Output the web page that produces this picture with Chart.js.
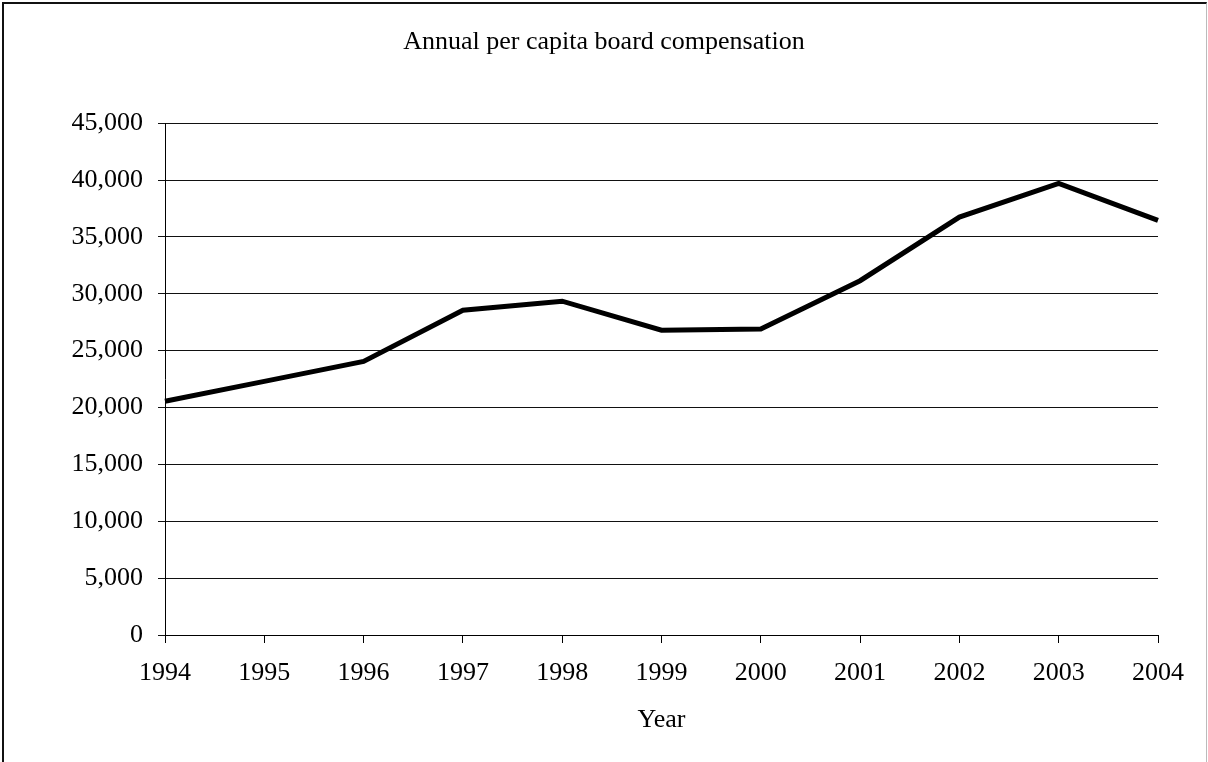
<!DOCTYPE html>
<html>
<head>
<meta charset="utf-8">
<script src="https://cdn.jsdelivr.net/npm/chart.js@4"></script>
<style>
  body { margin: 0; background: #fff; overflow: hidden; }
  #wrap { position: relative; width: 1208px; height: 762px; }
  #frame {
    position: absolute; left: 2px; top: 2px; width: 1202px; height: 800px;
    border-left: 2px solid #111; border-top: 2px solid #111; border-right: 1px solid #bbb;
    pointer-events: none;
  }
</style>
</head>
<body>
<div id="wrap">
  <canvas id="chartComp"></canvas>
  <div id="frame"></div>
</div>
<script>
// datos
const years = ["1994", "1995", "1996", "1997", "1998", "1999", "2000", "2001", "2002", "2003", "2004"];
const compensation = [20550, 22300, 24050, 28550, 29350, 26800, 26900, 31150, 36750, 39700, 36450];
const yTicks = [0, 5000, 10000, 15000, 20000, 25000, 30000, 35000, 40000, 45000];

const serif = "'Liberation Serif', 'Times New Roman', serif";

const data = {
  labels: years,
  datasets: [{
    data: compensation,
    borderColor: "#000",
    borderWidth: 5,
    pointRadius: 0,
    tension: 0,
    fill: false
  }]
};

const config = {
  type: "line",
  data: data,
  options: {
    responsive: true,
    maintainAspectRatio: false,
    animation: false,
    layout: { padding: 0 },
    plugins: {
      legend: { display: false },
      tooltip: { enabled: false },
      title: {
        display: true,
        text: "Annual per capita board compensation",
        color: "#000",
        font: { family: serif, size: 26, weight: "normal" },
        padding: { top: 27, bottom: 65 }
      }
    },
    scales: {
      x: {
        offset: false,
        grid: { drawOnChartArea: false, drawTicks: true, tickLength: 8, color: "#000" },
        border: { color: "#000", width: 1 },
        ticks: { color: "#000", font: { family: serif, size: 26 }, padding: 15, maxRotation: 0 },
        title: {
          display: true, text: "Year", color: "#000",
          font: { family: serif, size: 26 }, padding: { top: 12, bottom: 26 }
        },
        afterFit: (s) => { s.height = 127; }
      },
      y: {
        min: 0,
        max: 45000,
        afterBuildTicks: (s) => { s.ticks = yTicks.map(v => ({ value: v })); },
        grid: { color: "#111", tickLength: 7, lineWidth: 1 },
        border: { color: "#000", width: 1 },
        ticks: {
          color: "#000",
          font: { family: serif, size: 26 },
          padding: 15,
          callback: (v) => Number(v).toLocaleString("en-US")
        },
        afterFit: (s) => { s.width = 165; }
      },
      // eje vacío a la derecha para dejar el margen de 50px
      yRight: {
        position: "right",
        display: true,
        grid: { display: false },
        border: { display: false },
        ticks: { display: false },
        afterFit: (s) => { s.width = 50; }
      }
    }
  }
};

const myChart = new Chart(document.getElementById("chartComp"), config);
</script>
</body>
</html>
